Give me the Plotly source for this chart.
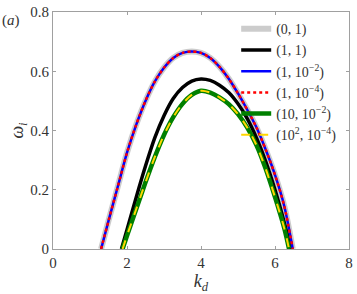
import plotly.graph_objects as go

kd_a = [1.30, 1.50, 1.75, 2.00, 2.25, 2.50, 2.75, 3.00, 3.25, 3.50, 3.75, 4.00,
        4.25, 4.50, 4.75, 5.00, 5.25, 5.50, 5.75, 6.00, 6.25, 6.48]
om_a = [0.0, 0.095, 0.21, 0.325, 0.42, 0.50, 0.565, 0.612, 0.645, 0.662, 0.667, 0.662,
        0.645, 0.615, 0.575, 0.525, 0.47, 0.41, 0.335, 0.25, 0.145, 0.0]

kd_b = [1.85, 2.00, 2.25, 2.50, 2.75, 3.00, 3.25, 3.50, 3.75, 4.00, 4.25, 4.50,
        4.75, 5.00, 5.25, 5.50, 5.75, 6.00, 6.25, 6.43]
om_b = [0.0, 0.065, 0.175, 0.28, 0.375, 0.45, 0.508, 0.545, 0.567, 0.574, 0.569, 0.553,
        0.528, 0.49, 0.44, 0.375, 0.295, 0.20, 0.09, 0.0]

kd_c = [1.88, 2.00, 2.25, 2.50, 2.75, 3.00, 3.25, 3.50, 3.75, 4.00, 4.25, 4.50,
        4.75, 5.00, 5.25, 5.50, 5.75, 6.00, 6.25, 6.38]
om_c = [0.0, 0.045, 0.135, 0.225, 0.31, 0.385, 0.445, 0.49, 0.52, 0.534, 0.528, 0.512,
        0.489, 0.455, 0.41, 0.35, 0.27, 0.175, 0.07, 0.0]

labels = ["(0, 1)", "(1, 1)", "(1, 10<sup>−2</sup>)", "(1, 10<sup>−4</sup>)",
          "(10, 10<sup>−2</sup>)", "(10<sup>2</sup>, 10<sup>−4</sup>)"]
x_ticks = [0, 2, 4, 6, 8]
y_ticks = [0, 0.2, 0.4, 0.6, 0.8]
y_ticktext = ["0", "0.2", "0.4", "0.6", "0.8"]

series = [
    (kd_a, om_a, labels[0], dict(color="#cccccc", width=6)),
    (kd_b, om_b, labels[1], dict(color="black", width=3.5)),
    (kd_a, om_a, labels[2], dict(color="#0000ff", width=2.5)),
    (kd_a, om_a, labels[3], dict(color="#ff0000", width=2.5, dash="dot")),
    (kd_c, om_c, labels[4], dict(color="#008000", width=4.5)),
    (kd_c, om_c, labels[5], dict(color="#ffd700", width=2, dash="dash")),
]

fig = go.Figure()
for x, y, name, line in series:
    fig.add_trace(go.Scatter(x=x, y=y, mode="lines", name=name,
                             line=dict(shape="spline", smoothing=0.8, **line)))

font = dict(family="Liberation Serif, Times New Roman, serif", size=15, color="#333333")
axis = dict(showgrid=False, zeroline=False, showline=True, linecolor="#a0a0a0",
            linewidth=1, mirror="ticks", ticks="inside", ticklen=3,
            tickcolor="#a0a0a0", tickfont=font, ticklabeloverflow="allow")

fig.update_layout(
    width=357, height=294,
    margin=dict(l=53, r=4, t=5, b=45),
    plot_bgcolor="white", paper_bgcolor="white",
    font=font,
    xaxis=dict(range=[0, 8], tickvals=x_ticks,
               title=dict(text="<i>k</i><sub><i>d</i></sub>", standoff=2), **axis),
    yaxis=dict(range=[0, 0.8], tickvals=y_ticks, ticktext=y_ticktext,
               title=dict(text="<i>ω</i><sub><i>i</i></sub>", standoff=1), **axis),
    legend=dict(x=0.977, xanchor="right", y=0.995, yanchor="top", bgcolor="rgba(0,0,0,0)",
                itemwidth=30, tracegroupgap=0,
                font=dict(family="Liberation Serif, Times New Roman, serif", size=14,
                          color="#333333")),
    annotations=[dict(text="(<i>a</i>)", xref="paper", yref="paper", x=-0.178, y=0.965,
                      xanchor="left", yanchor="middle", showarrow=False, font=font)],
)

fig.write_html("out.html", post_script="document.body.style.margin='0';",
               config={"displayModeBar": False})
